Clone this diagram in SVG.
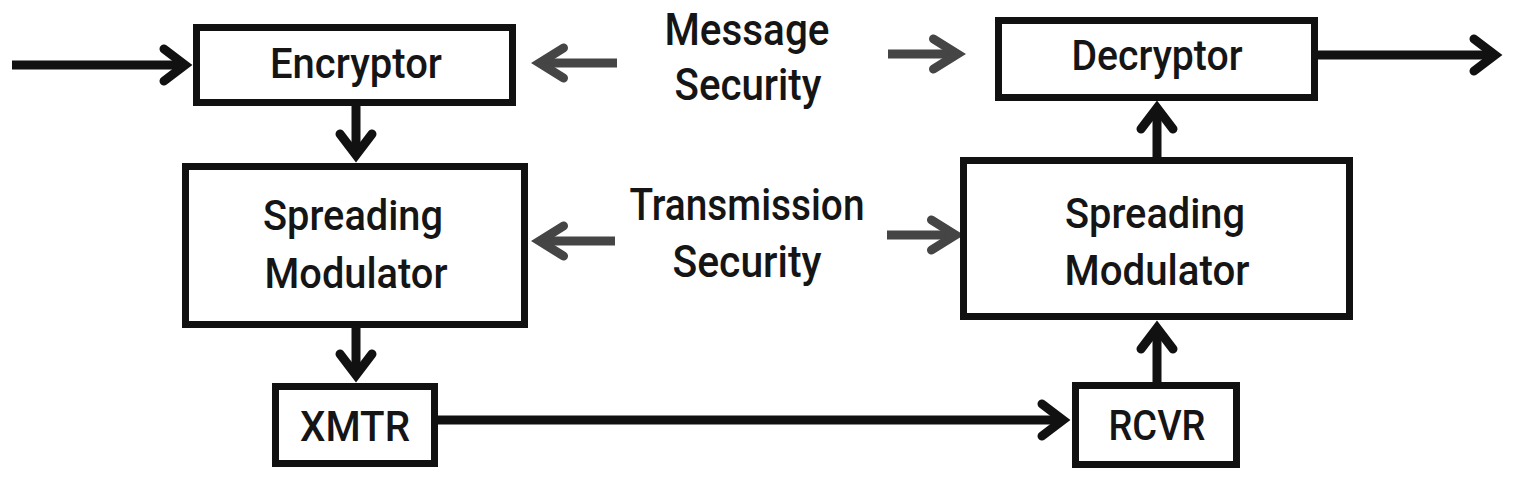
<svg xmlns="http://www.w3.org/2000/svg" width="1515" height="481" viewBox="0 0 1515 481">
<style>
.box{fill:#fff;stroke:#111;stroke-width:7}
.t{font-family:Roboto,"Liberation Sans",Arial,sans-serif;font-weight:500;font-size:42px;fill:#151515;text-anchor:middle}
.lbl{font-size:45px}
.c{fill:none;stroke:#111;stroke-width:9}
.g{fill:none;stroke:#454545;stroke-width:9}
</style>
<defs>
<marker id="ah" viewBox="-40 -30 60 60" refX="0" refY="0" markerWidth="60" markerHeight="60" markerUnits="userSpaceOnUse" orient="auto">
<path d="M-21,-16 L0,0 L-21,16" fill="none" stroke="#111" stroke-width="9" stroke-linecap="round" stroke-linejoin="miter"/>
</marker>
<marker id="gh" viewBox="-40 -30 60 60" refX="0" refY="0" markerWidth="60" markerHeight="60" markerUnits="userSpaceOnUse" orient="auto">
<path d="M-24,-15 L0,0 L-24,15" fill="none" stroke="#454545" stroke-width="9" stroke-linecap="round" stroke-linejoin="miter"/>
</marker>
</defs>
<rect width="1515" height="481" fill="#fff"/>
<g id="connectors">
<line class="c" x1="12" y1="65" x2="185" y2="65" marker-end="url(#ah)"/>
<line class="c" x1="1317" y1="55" x2="1495" y2="55" marker-end="url(#ah)"/>
<line class="c" x1="356" y1="106" x2="356" y2="155" marker-end="url(#ah)"/>
<line class="c" x1="356" y1="328" x2="356" y2="375" marker-end="url(#ah)"/>
<line class="c" x1="438" y1="420" x2="1063" y2="420" marker-end="url(#ah)"/>
<line class="c" x1="1157" y1="382" x2="1157" y2="328" marker-end="url(#ah)"/>
<line class="c" x1="1157" y1="157" x2="1157" y2="108" marker-end="url(#ah)"/>
<line class="g" x1="617" y1="63" x2="539.5" y2="63" marker-end="url(#gh)"/>
<line class="g" x1="888" y1="54" x2="957.5" y2="54" marker-end="url(#gh)"/>
<line class="g" x1="615" y1="241" x2="539.5" y2="241" marker-end="url(#gh)"/>
<line class="g" x1="887" y1="235" x2="955.5" y2="235" marker-end="url(#gh)"/>
</g>
<g id="encryptor">
<rect class="box" x="196.5" y="27.5" width="316" height="75"/>
<text class="t" x="356" y="78" textLength="172" lengthAdjust="spacingAndGlyphs">Encryptor</text>
</g>
<g id="decryptor">
<rect class="box" x="998.5" y="20.5" width="316" height="77"/>
<text class="t" x="1157" y="70" textLength="171" lengthAdjust="spacingAndGlyphs">Decryptor</text>
</g>
<g id="spreading-modulator-tx">
<rect class="box" x="185.5" y="166.5" width="339" height="158"/>
<text class="t" x="353" y="230" textLength="180" lengthAdjust="spacingAndGlyphs">Spreading</text>
<text class="t" x="356" y="288" textLength="183" lengthAdjust="spacingAndGlyphs">Modulator</text>
</g>
<g id="spreading-modulator-rx">
<rect class="box" x="963.5" y="160.5" width="386" height="156"/>
<text class="t" x="1155" y="228" textLength="180" lengthAdjust="spacingAndGlyphs">Spreading</text>
<text class="t" x="1157" y="285" textLength="185" lengthAdjust="spacingAndGlyphs">Modulator</text>
</g>
<g id="xmtr">
<rect class="box" x="275.5" y="386.5" width="159" height="77"/>
<text class="t" x="355" y="441" textLength="110" lengthAdjust="spacingAndGlyphs">XMTR</text>
</g>
<g id="rcvr">
<rect class="box" x="1075.5" y="385.5" width="161" height="79"/>
<text class="t" x="1157" y="440" textLength="97" lengthAdjust="spacingAndGlyphs">RCVR</text>
</g>
<g id="message-security">
<text class="t lbl" x="747" y="45" textLength="165" lengthAdjust="spacingAndGlyphs">Message</text>
<text class="t lbl" x="748" y="100" textLength="147" lengthAdjust="spacingAndGlyphs">Security</text>
</g>
<g id="transmission-security">
<text class="t lbl" x="747" y="220" textLength="235" lengthAdjust="spacingAndGlyphs">Transmission</text>
<text class="t lbl" x="747" y="277" textLength="149" lengthAdjust="spacingAndGlyphs">Security</text>
</g>
</svg>
